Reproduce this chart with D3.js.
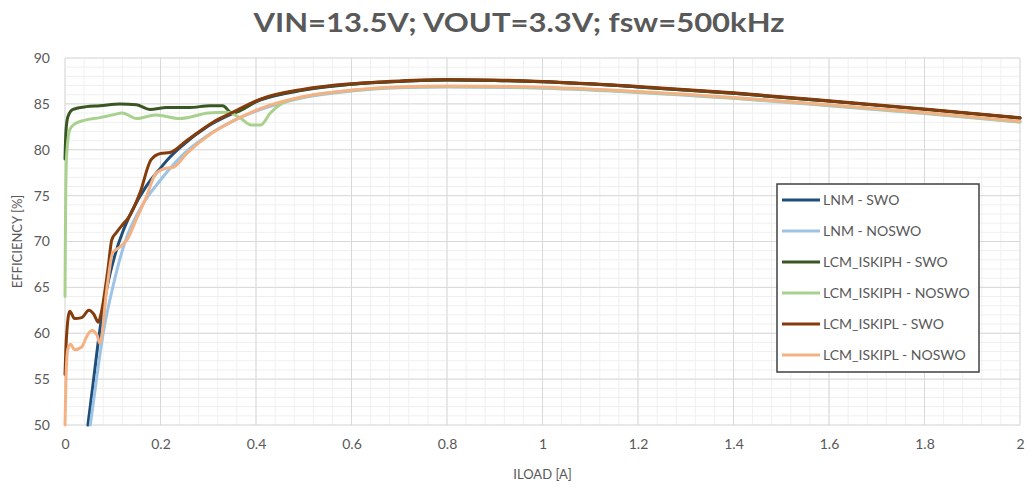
<!DOCTYPE html>
<html>
<head>
<meta charset="utf-8">
<script src="https://cdn.jsdelivr.net/npm/d3@7"></script>
<style>
  html, body { margin: 0; padding: 0; background: #fff; }
  svg { display: block; }
  text { font-family: Lato, "Open Sans", sans-serif; fill: #595959; }
</style>
</head>
<body>
<svg id="chart" width="1033" height="488"></svg>
<script>
// Efficiency vs load current, six operating modes
const title = "VIN=13.5V; VOUT=3.3V; fsw=500kHz";
const xTicks = [0, 0.2, 0.4, 0.6, 0.8, 1, 1.2, 1.4, 1.6, 1.8, 2];
const yTicks = [50, 55, 60, 65, 70, 75, 80, 85, 90];
const seriesNames = ["LNM - SWO", "LNM - NOSWO", "LCM_ISKIPH - SWO", "LCM_ISKIPH - NOSWO", "LCM_ISKIPL - SWO", "LCM_ISKIPL - NOSWO"];
const seriesColors = ["#1f4e79", "#9dc3e6", "#385723", "#a9d18e", "#843c0c", "#f4b183"];

// LNM - SWO
const lnmSwoX = [0.048, 0.06, 0.072, 0.088, 0.105, 0.122, 0.14, 0.17, 0.2, 0.22, 0.24, 0.3, 0.352, 0.408, 0.5, 0.6, 0.7, 0.8, 0.9, 1.0, 1.2, 1.4, 1.6, 1.8, 2.0];
const lnmSwoY = [50, 55, 60, 65, 68.6, 71.2, 73.3, 76, 78, 79.2, 80.2, 82.6, 84.0, 85.4, 86.5, 87.15, 87.45, 87.6, 87.55, 87.4, 86.85, 86.15, 85.3, 84.4, 83.45];

// LNM - NOSWO
const lnmNoswoX = [0.053, 0.066, 0.08, 0.1, 0.126, 0.16, 0.2, 0.25, 0.3, 0.35, 0.4, 0.5, 0.6, 0.7, 0.8, 1.0, 1.2, 1.4, 1.6, 1.8, 2.0];
const lnmNoswoY = [50, 55, 60, 65, 70, 73.8, 76.7, 79.6, 81.6, 83.1, 84.2, 85.7, 86.4, 86.75, 86.85, 86.7, 86.25, 85.6, 84.8, 83.95, 83.0];

// LCM_ISKIPH - SWO
const iskiphSwoX = [0, 0.002, 0.006, 0.017, 0.045, 0.073, 0.115, 0.15, 0.178, 0.213, 0.26, 0.304, 0.33, 0.35, 0.408, 0.5, 0.6, 0.7, 0.8, 0.9, 1.0, 1.2, 1.4, 1.6, 1.8, 2.0];
const iskiphSwoY = [79, 82, 83.6, 84.4, 84.7, 84.8, 85.0, 84.9, 84.4, 84.6, 84.6, 84.8, 84.8, 84.0, 85.45, 86.55, 87.15, 87.45, 87.6, 87.55, 87.4, 86.85, 86.15, 85.3, 84.4, 83.45];

// LCM_ISKIPH - NOSWO
const iskiphNoswoX = [0, 0.001, 0.003, 0.01, 0.02, 0.04, 0.073, 0.1, 0.12, 0.15, 0.19, 0.24, 0.3, 0.34, 0.366, 0.39, 0.41, 0.43, 0.45, 0.5, 0.6, 0.7, 0.8, 1.0, 1.2, 1.4, 1.6, 1.8, 2.0];
const iskiphNoswoY = [64, 72, 79, 82.2, 82.8, 83.2, 83.5, 83.8, 84.0, 83.4, 83.8, 83.4, 84.0, 84.1, 83.5, 82.7, 82.7, 84.0, 84.9, 85.75, 86.45, 86.8, 86.9, 86.75, 86.3, 85.65, 84.85, 84.0, 83.05];

// LCM_ISKIPL - SWO
const iskiplSwoX = [0, 0.003, 0.01, 0.02, 0.035, 0.05, 0.06, 0.07, 0.075, 0.09, 0.098, 0.108, 0.12, 0.133, 0.157, 0.18, 0.2, 0.22, 0.255, 0.31, 0.352, 0.408, 0.5, 0.6, 0.7, 0.8, 0.9, 1.0, 1.2, 1.4, 1.6, 1.8, 2.0];
const iskiplSwoY = [55.5, 59.5, 62.4, 61.6, 61.7, 62.5, 62.1, 61.2, 62, 67, 70.2, 71, 71.8, 72.6, 75.3, 78.9, 79.6, 79.7, 81, 83, 84.1, 85.5, 86.6, 87.2, 87.5, 87.65, 87.6, 87.45, 86.9, 86.2, 85.35, 84.45, 83.5];

// LCM_ISKIPL - NOSWO
const iskiplNoswoX = [0, 0.002, 0.006, 0.012, 0.02, 0.035, 0.045, 0.056, 0.067, 0.073, 0.088, 0.1, 0.115, 0.13, 0.15, 0.17, 0.19, 0.213, 0.227, 0.255, 0.31, 0.366, 0.41, 0.5, 0.6, 0.7, 0.8, 1.0, 1.2, 1.4, 1.6, 1.8, 2.0];
const iskiplNoswoY = [50, 55, 58.3, 58.8, 58.2, 58.5, 59.6, 60.3, 59.8, 58.9, 65, 68.8, 69.4, 70.2, 72.5, 74.8, 77.4, 78, 78.1, 79.6, 81.9, 83.5, 84.5, 85.8, 86.5, 86.85, 86.95, 86.8, 86.35, 85.7, 84.9, 84.05, 83.1];

const seriesX = [lnmSwoX, lnmNoswoX, iskiphSwoX, iskiphNoswoX, iskiplSwoX, iskiplNoswoX];
const seriesY = [lnmSwoY, lnmNoswoY, iskiphSwoY, iskiphNoswoY, iskiplSwoY, iskiplNoswoY];

const svg = d3.select("#chart");
const plot = { left: 65, right: 1020, top: 58, bottom: 425 };

const x = d3.scaleLinear().domain([0, 2]).range([plot.left, plot.right]);
const y = d3.scaleLinear().domain([50, 90]).range([plot.bottom, plot.top]);

// Minor grid
const g = svg.append("g");
g.selectAll("line.minx").data(d3.range(0, 2.0001, 0.04)).join("line")
  .attr("x1", d => x(d)).attr("x2", d => x(d))
  .attr("y1", plot.top).attr("y2", plot.bottom)
  .attr("stroke", "#efefef").attr("stroke-width", 1);
g.selectAll("line.miny").data(d3.range(50, 90.001, 1)).join("line")
  .attr("x1", plot.left).attr("x2", plot.right)
  .attr("y1", d => y(d)).attr("y2", d => y(d))
  .attr("stroke", "#efefef").attr("stroke-width", 1);

// Major grid
g.selectAll("line.majx").data(xTicks).join("line")
  .attr("x1", d => x(d)).attr("x2", d => x(d))
  .attr("y1", plot.top).attr("y2", plot.bottom)
  .attr("stroke", "#d9d9d9").attr("stroke-width", 1);
g.selectAll("line.majy").data(yTicks).join("line")
  .attr("x1", plot.left).attr("x2", plot.right)
  .attr("y1", d => y(d)).attr("y2", d => y(d))
  .attr("stroke", "#d9d9d9").attr("stroke-width", 1);

// Axes (labels only)
const xAxis = d3.axisBottom(x).tickValues(xTicks).tickSize(0).tickPadding(0)
  .tickFormat(d => String(d));
const yAxis = d3.axisLeft(y).tickValues(yTicks).tickSize(0).tickPadding(0);

const gx = svg.append("g").attr("transform", `translate(0,${plot.bottom + 14})`).call(xAxis);
gx.select(".domain").remove();
gx.selectAll("text").attr("font-size", 14).attr("fill", "#595959")
  .style("font-family", "Lato, sans-serif");

const gy = svg.append("g").attr("transform", `translate(${plot.left - 15},0)`).call(yAxis);
gy.select(".domain").remove();
gy.selectAll("text").attr("font-size", 14).attr("fill", "#595959")
  .style("font-family", "Lato, sans-serif");

// Series
const line = d3.line().x(d => x(d[0])).y(d => y(d[1])).curve(d3.curveMonotoneX);
seriesNames.forEach((name, i) => {
  const pts = seriesX[i].map((v, j) => [v, seriesY[i][j]]);
  svg.append("path").datum(pts)
    .attr("d", line)
    .attr("fill", "none")
    .attr("stroke", seriesColors[i])
    .attr("stroke-width", 3)
    .attr("stroke-linejoin", "round")
    .attr("stroke-linecap", "round");
});

// Title and axis titles
svg.append("text").attr("x", 519).attr("y", 32)
  .attr("text-anchor", "middle").attr("font-size", 26).attr("font-weight", "bold")
  .attr("fill", "#595959")
  .attr("textLength", 531).attr("lengthAdjust", "spacingAndGlyphs")
  .text(title);

svg.append("text").attr("x", x(1)).attr("y", 479)
  .attr("text-anchor", "middle").attr("font-size", 13).attr("fill", "#595959")
  .text("ILOAD [A]");

svg.append("text")
  .attr("transform", `translate(22,${y(70)}) rotate(-90)`)
  .attr("text-anchor", "middle").attr("font-size", 13).attr("fill", "#595959")
  .text("EFFICIENCY [%]");

// Legend
const lg = svg.append("g");
const lgBox = { x: 777, y: 184, w: 202, h: 188 };
lg.append("rect").attr("x", lgBox.x).attr("y", lgBox.y)
  .attr("width", lgBox.w).attr("height", lgBox.h)
  .attr("fill", "#fff").attr("stroke", "#404040").attr("stroke-width", 1.5);
const rowY = d3.scaleLinear().domain([0, 5]).range([200, 355]);
seriesNames.forEach((name, i) => {
  lg.append("line")
    .attr("x1", 782).attr("x2", 820)
    .attr("y1", rowY(i)).attr("y2", rowY(i))
    .attr("stroke", seriesColors[i]).attr("stroke-width", 3);
  lg.append("text").attr("x", 823).attr("y", rowY(i) + 5)
    .attr("font-size", 14).attr("fill", "#595959")
    .text(name);
});
</script>
</body>
</html>
